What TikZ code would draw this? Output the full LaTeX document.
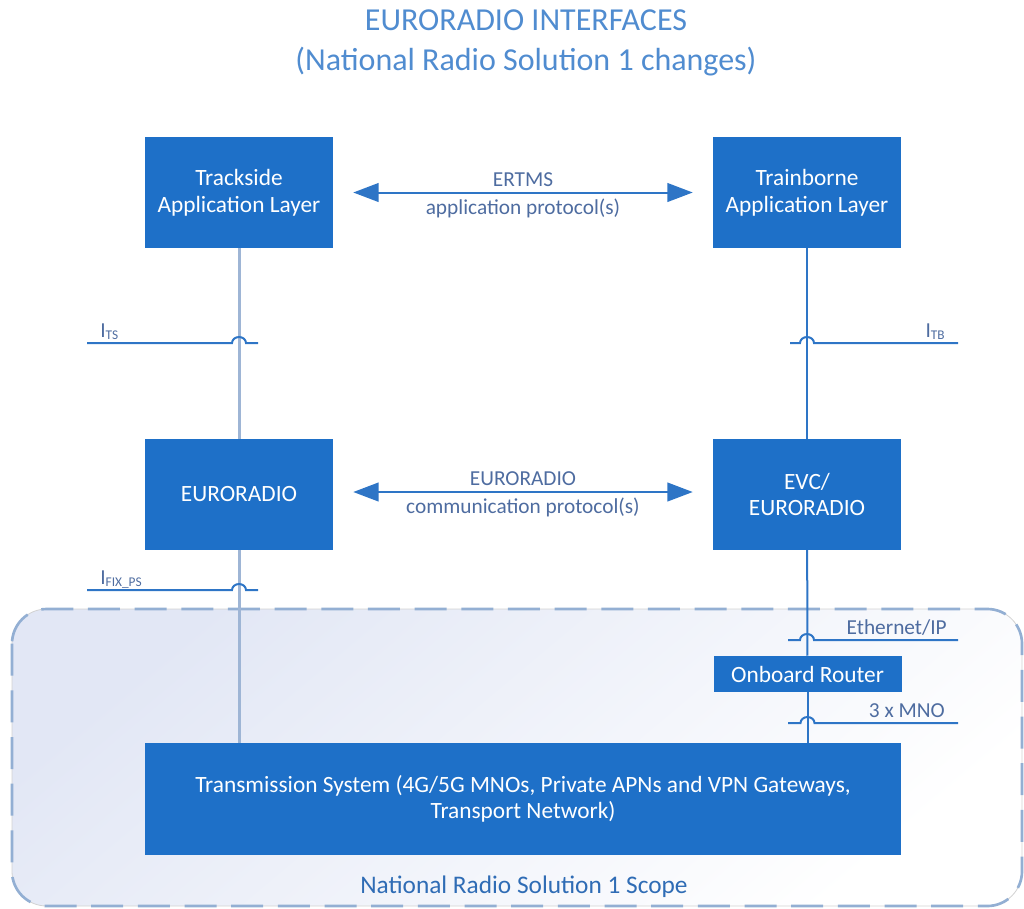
\documentclass[tikz,border=0pt]{standalone}
\usepackage{fontspec}
\setmainfont{Carlito}
\usetikzlibrary{arrows.meta,calc,positioning}
\definecolor{boxblue}{RGB}{30,112,200}
\definecolor{lineblue}{RGB}{46,117,198}
\definecolor{paleline}{RGB}{158,181,213}
\definecolor{titleblue}{RGB}{80,140,208}
\definecolor{labelgray}{RGB}{78,108,160}
\definecolor{scopeblue}{RGB}{47,108,181}
\definecolor{regionfill}{RGB}{226,231,245}
\newcommand{\ifname}[1]{I{\fontsize{10}{10}\selectfont\raisebox{-2pt}{#1}}}
\newcommand{\hopline}[3]{%
  \draw[ifline] (#1) -- ($(#3 |- #1)+(-7,0)$)
    arc[start angle=180, end angle=360, x radius=7, y radius=6] -- (#2);}
\begin{document}
\begin{tikzpicture}[x=0.75pt,y=-0.75pt,
    block/.style={draw=none, fill=boxblue, text=white, align=center,
      inner sep=0pt, minimum width=141pt, minimum height=83pt,
      font=\fontsize{17.5}{20}\selectfont},
    smallblock/.style={block, minimum height=27pt},
    ifline/.style={draw=lineblue, line width=1.5pt},
    iflabel/.style={text=labelgray, inner sep=0pt, font=\fontsize{16}{16}\selectfont},
    protocol/.style={draw=lineblue, line width=1.5pt,
      {Triangle[length=19pt,width=14pt]}-{Triangle[length=19pt,width=14pt]},
      shorten <=15pt, shorten >=15pt},
    plabel/.style={text=labelgray, inner sep=0pt, font=\fontsize{16}{18}\selectfont},
    trackline/.style={draw=paleline, line width=2.25pt},
    trainline/.style={draw=lineblue, line width=1.5pt},
    region/.style={rounded corners=26pt, draw=gray!35, line width=0.6pt,
      top color=regionfill, bottom color=white, shading angle=40},
    regionborder/.style={rounded corners=26pt, draw=paleline!90!lineblue,
      line width=2pt, dash pattern=on 24pt off 11pt},
  ]
  \useasboundingbox (0,0) rectangle (1024,908);

  % scope of the national radio solution
  \path[region] (12,609) rectangle (1022,906);
  \draw[regionborder] (12,609) rectangle (1022,906);

  % title
  \node[text=titleblue, align=center, font=\fontsize{24}{30}\selectfont]
    (title) at (526,43) {EURORADIO INTERFACES\\(National Radio Solution 1 changes)};

  % blocks
  \node[block] (trackside) at (239,192.5) {Trackside\\Application Layer};
  \node[block] (trainborne) at (807,192.5) {Trainborne\\Application Layer};
  \node[block] (euroradio) at (239,494.5) {EURORADIO};
  \node[block] (evc) at (807,494.5) {EVC/\\EURORADIO};
  \node[smallblock] (router) at (807.5,674) {Onboard Router};
  \node[block, minimum width=567pt, minimum height=84pt] (transmission) at (523,799)
    {Transmission System (4G/5G MNOs, Private APNs and VPN Gateways,\\Transport Network)};

  % vertical links
  \draw[trackline] (trackside) -- (euroradio);
  \draw[trackline] (euroradio) -- (euroradio.south |- transmission.north);
  \draw[trainline] (trainborne) -- (evc);
  \draw[trainline] (evc) -- (router);
  \draw[trainline] (router) -- (router.south |- transmission.north);

  % interfaces
  \coordinate (ts-l) at (87,343);
  \coordinate (ts-r) at (258,343);
  \coordinate (tb-l) at (790,343);
  \coordinate (tb-r) at (958,343);
  \coordinate (fix-l) at (87,590);
  \coordinate (fix-r) at (258,590);
  \coordinate (eth-l) at (788,640);
  \coordinate (eth-r) at (958,640);
  \coordinate (mno-l) at (788,723);
  \coordinate (mno-r) at (958,723);
  \hopline{ts-l}{ts-r}{trackside.south}
  \hopline{tb-l}{tb-r}{trainborne.south}
  \hopline{fix-l}{fix-r}{euroradio.south}
  \hopline{eth-l}{eth-r}{evc.south}
  \hopline{mno-l}{mno-r}{router.south}
  \node[iflabel, anchor=base west] (ts-lab) at (100,337) {\ifname{TS}};
  \node[iflabel, anchor=base east] (tb-lab) at (945,337) {\ifname{TB}};
  \node[iflabel, anchor=base west] (fix-lab) at (100,584) {\ifname{FIX\_PS}};
  \node[iflabel, anchor=base east] (eth-lab) at (947,634) {Ethernet/IP};
  \node[iflabel, anchor=base east] (mno-lab) at (945,717) {3 x MNO};

  % protocols
  \draw[protocol] (trackside) -- (trainborne)
    node[plabel, midway, above=4pt] (ertms) {ERTMS}
    node[plabel, midway, below=4pt] (app) {application protocol(s)};
  \draw[protocol] (euroradio.east |- 0,492) -- (evc.west |- 0,492)
    node[plabel, midway, above=4pt] (er) {EURORADIO}
    node[plabel, midway, below=4pt] (comm) {communication protocol(s)};

  \node[text=scopeblue, font=\fontsize{19}{20}\selectfont] (scope) at (524,887)
    {National Radio Solution 1 Scope};
\end{tikzpicture}
\end{document}
